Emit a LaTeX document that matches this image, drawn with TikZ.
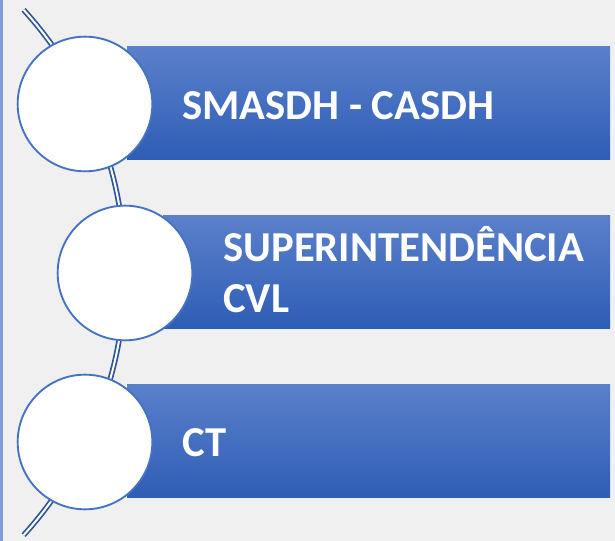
\documentclass[tikz,border=0pt]{standalone}
\usepackage{fontspec}
\setsansfont{Carlito}
\definecolor{pageBg}{HTML}{F0F0F0}
\definecolor{edgeBlue}{HTML}{7F9CD8}
\definecolor{ringBlue}{HTML}{4472C4}
\definecolor{arcBlue}{HTML}{2F5597}
\definecolor{barTop}{HTML}{5B80CB}
\definecolor{barMid}{HTML}{3B70C8}
\definecolor{barBot}{HTML}{2E5DB5}
\tikzset{
  bar/.style={top color=barTop, middle color=barMid, bottom color=barBot, draw=none},
  ring/.style={circle, draw=ringBlue, line width=1.4pt, fill=white, minimum size=101pt, inner sep=0pt},
  label/.style={anchor=base west, inner sep=0pt, text=white, align=left,
    font=\sffamily\bfseries\fontsize{32}{38.5}\selectfont}
}
\begin{document}
\begin{tikzpicture}[x=0.75pt,y=0.75pt,yscale=-1,xscale=1]
\useasboundingbox (0,0) rectangle (615,541);
\fill [pageBg] (0,0) rectangle (615,541);
\draw [edgeBlue, line width=2pt] (1.3,0) -- (1.3,541);
% curved spine
\draw [arcBlue, line width=1.3pt, double=white, double distance=1.5pt] (-266,272.5) ++(-42.2:391) arc [start angle=-42.2, end angle=42.2, radius=391];
% bars
\shade [bar] (127,47) rectangle (610,160);
\shade [bar] (163,216) rectangle (610,329);
\shade [bar] (127,385) rectangle (610,498);
% circles
\node [ring] (c1) at (85,104) {};
\node [ring] (c2) at (125,273) {};
\node [ring] (c3) at (85,442) {};
% texts
\node [label] (t1) at (182,120) {SMASDH - CASDH};
\node [label] (t2) at (223,313) {SUPERINTENDÊNCIA\\CVL};
\node [label] (t3) at (182,457) {CT};
\end{tikzpicture}
\end{document}
